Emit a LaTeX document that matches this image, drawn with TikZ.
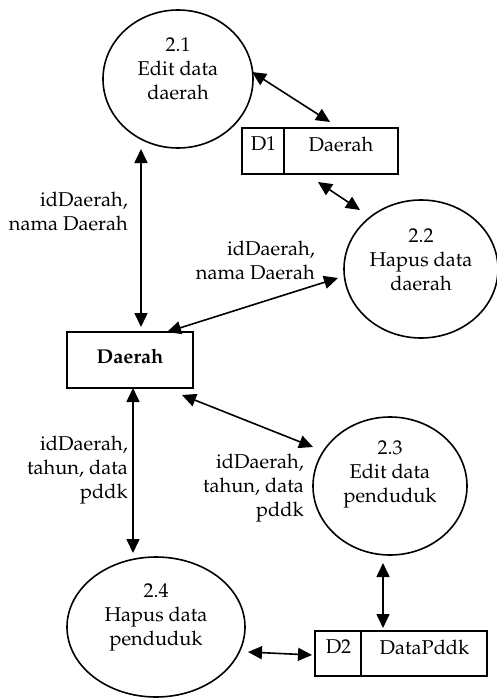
\documentclass[tikz,border=0pt]{standalone}
\usepackage[T1]{fontenc}
\usepackage{palatino}
\usetikzlibrary{shapes.geometric,arrows.meta,calc}
\begin{document}
\begin{tikzpicture}[x=1pt,y=-1pt,
  font=\fontsize{20}{24}\selectfont,
  proc/.style={draw,ellipse,line width=1.6pt,inner sep=0pt},
  store/.style={draw,rectangle,line width=1.6pt,inner sep=0pt},
  entity/.style={draw,rectangle,line width=1.6pt,inner sep=0pt},
  txt/.style={align=center,inner sep=0pt},
  flowlbl/.style={align=right,anchor=east,inner sep=0pt},
  divider/.style={line width=1.6pt},
  flow/.style={line width=1.6pt,{Triangle[length=14pt,width=13pt]}-{Triangle[length=14pt,width=13pt]}}
]
\useasboundingbox (0,0) rectangle (497,698);

% processes
\node[proc,minimum width=150pt,minimum height=138pt] (p1) at (178,79) {};
\node[txt] (p1t) at (178,69) {2.1\\Edit data\\daerah};
\node[proc,minimum width=154pt,minimum height=138pt] (p2) at (421,269) {};
\node[txt] (p2t) at (421,260) {2.2\\Hapus data\\daerah};
\node[proc,minimum width=154pt,minimum height=138pt] (p3) at (390,486) {};
\node[txt] (p3t) at (390,474) {2.3\\Edit data\\penduduk};
\node[proc,minimum width=178pt,minimum height=140pt] (p4) at (156,627) {};
\node[txt] (p4t) at (156,617) {2.4\\Hapus data\\penduduk};

% data stores
\node[store,minimum width=156pt,minimum height=46pt] (d1) at (320,151) {};
\draw[divider] ($(d1.north west)+(43,0)$) -- ($(d1.south west)+(43,0)$);
\node (d1id) at (263.5,144) {D1};
\node (d1nm) at (341,144) {Daerah};

\node[store,minimum width=172pt,minimum height=45pt] (d2) at (401,653.5) {};
\draw[divider] ($(d2.north west)+(47,0)$) -- ($(d2.south west)+(47,0)$);
\node (d2id) at (338.5,647) {D2};
\node (d2nm) at (424.5,647) {DataPddk};

% external entity
\node[entity,minimum width=126pt,minimum height=56pt] (ent) at (130,360) {};
\node[font=\fontsize{20}{24}\selectfont\bfseries] (entt) at (130,356) {Daerah};

% flows
\draw[flow] ($(p1)+(74,-7)$) -- ($(d1)+(10,-29)$);
\draw[flow] ($(d1)+(-2,31)$) -- ($(p2)+(-61,-59)$);
\draw[flow] ($(p1)+(-37,70)$) -- ($(ent)+(11,-33)$);
\draw[flow] ($(ent)+(37,-28)$) -- ($(p2)+(-83,9)$);
\draw[flow] ($(ent)+(52,35)$) -- ($(p3)+(-77,-39)$);
\draw[flow] ($(ent)+(3,28)$) -- ($(p4)+(-23,-74)$);
\draw[flow] ($(p3)+(-7,77)$) -- ($(d2)+(-18,-25.5)$);
\draw[flow] ($(p4)+(92,25)$) -- ($(d2)+(-89,1.5)$);

% flow labels
\node[flowlbl] (l1) at (128,211) {idDaerah,\\nama Daerah};
\node[flowlbl] (l2) at (315,260) {idDaerah,\\nama Daerah};
\node[flowlbl] (l3) at (128,470) {idDaerah,\\tahun, data\\pddk};
\node[flowlbl] (l4) at (304,488) {idDaerah,\\tahun, data\\pddk};
\end{tikzpicture}
\end{document}
